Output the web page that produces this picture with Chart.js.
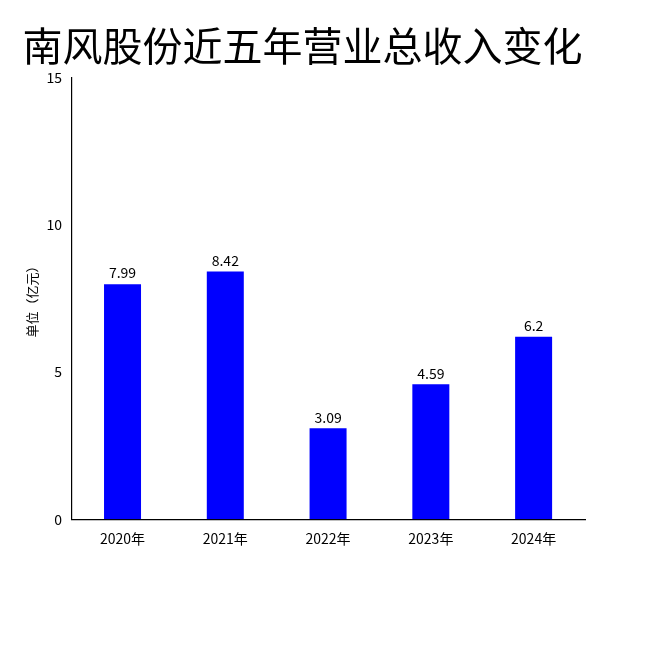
<!DOCTYPE html>
<html><head><meta charset="utf-8">
<script src="https://cdn.jsdelivr.net/npm/chart.js@4"></script>
<style>html,body{margin:0;background:#fff}#wrap{width:650px;height:650px}</style>
</head><body><div id="wrap"><canvas id="c"></canvas></div>
<script>
// 南风股份营业总收入（亿元）
const years = ["2020年", "2021年", "2022年", "2023年", "2024年"];
const revenue = [7.99, 8.42, 3.09, 4.59, 6.2];
const yTicks = [0, 5, 10, 15];

const FONT = "'Noto Sans CJK SC', 'Noto Sans', sans-serif";

const barLabels = {
  id: "barLabels",
  afterDatasetsDraw(chart) {
    const ctx = chart.ctx;
    ctx.save();
    ctx.font = "14px " + FONT;
    ctx.fillStyle = "#000";
    ctx.textAlign = "center";
    ctx.textBaseline = "bottom";
    chart.getDatasetMeta(0).data.forEach((bar, i) => {
      ctx.fillText(String(revenue[i]), bar.x, bar.y - 4);
    });
    ctx.restore();
  },
};

new Chart(document.getElementById("c"), {
  type: "bar",
  data: {
    labels: years,
    datasets: [{ data: revenue, backgroundColor: "#0000ff", barPercentage: 0.36, categoryPercentage: 1 }],
  },
  options: {
    responsive: true,
    maintainAspectRatio: false,
    animation: false,
    layout: { padding: { left: 20, right: 65, top: 0, bottom: 100 } },
    plugins: {
      legend: { display: false },
      tooltip: { enabled: false },
      title: {
        display: true,
        text: "南风股份近五年营业总收入变化",
        color: "#000",
        font: { family: FONT, size: 40, weight: "normal" },
        padding: { top: 22, bottom: 8 },
      },
    },
    scales: {
      x: {
        grid: { display: false, drawTicks: true },
        border: { color: "#000", width: 1.2 },
        ticks: { color: "#000", font: { family: FONT, size: 14 } },
      },
      y: {
        min: 0, max: 15,
        afterBuildTicks: (s) => { s.ticks = yTicks.map((v) => ({ value: v })); },
        grid: { display: false, drawTicks: true, tickLength: 6 },
        border: { color: "#000", width: 1.2 },
        ticks: { color: "#000", font: { family: FONT, size: 14 } },
        title: { display: true, text: "单位（亿元）", color: "#000", font: { family: FONT, size: 13 } },
      },
    },
  },
  plugins: [barLabels],
});
</script></body></html>
